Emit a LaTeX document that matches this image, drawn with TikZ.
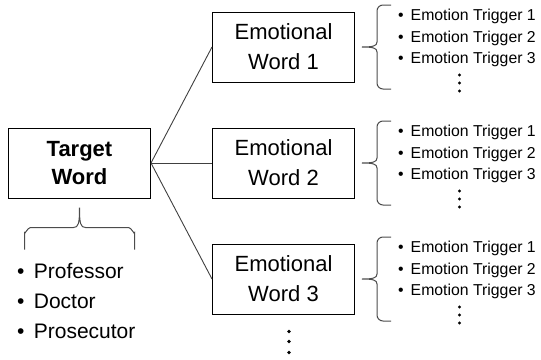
\documentclass[tikz,border=0pt]{standalone}
\usepackage{fontspec}
\setmainfont{Liberation Sans}
\usetikzlibrary{calc}
\begin{document}
\begin{tikzpicture}[x=1pt,y=-1pt,
  wordbox/.style={draw=black, line width=1pt, minimum width=142pt, minimum height=70pt,
    inner sep=0pt, align=center, font=\fontsize{22}{30}\selectfont},
  link/.style={draw=black!75, line width=0.9pt},
  bracestyle/.style={draw=black!70, line width=1pt},
  trig/.style={anchor=west, inner sep=0pt, align=left, font=\fontsize{15.8}{21.5}\selectfont},
  items/.style={anchor=west, inner sep=0pt, align=left, font=\fontsize{21}{29.5}\selectfont},
  dotmark/.style={fill=black}]
\useasboundingbox (0,0) rectangle (541,359);

% main boxes
\node[wordbox, font=\fontsize{22}{28}\selectfont\bfseries] (tw) at (79.5,163) {Target\\Word};
\node[wordbox] (e1) at (283.5,47) {Emotional\\Word 1};
\node[wordbox] (e2) at (283.5,163) {Emotional\\Word 2};
\node[wordbox] (e3) at (283.5,279) {Emotional\\Word 3};

% connectors from the target word
\draw[link] (tw.east) -- (e1.west);
\draw[link] (tw.east) -- (e2.west);
\draw[link] (tw.east) -- (e3.west);

% trigger lists with their braces
\foreach \e/\t in {e1/t1, e2/t2, e3/t3}{
  \node[trig] (\t) at ($(\e.east)+(43,-9)$)
    {• \,Emotion Trigger 1\\• \,Emotion Trigger 2\\• \,Emotion Trigger 3};
  \draw[bracestyle]
    ($(\e.east)+(36,-42)$) -- ($(\e.east)+(28,-42)$)
    to[out=180,in=90] ($(\e.east)+(22,-36)$)
    -- ($(\e.east)+(22,-5)$)
    .. controls ($(\e.east)+(22,-1)$) and ($(\e.east)+(18,0)$) .. ($(\e.east)+(7,0)$)
    .. controls ($(\e.east)+(18,0)$) and ($(\e.east)+(22,1)$) .. ($(\e.east)+(22,5)$)
    -- ($(\e.east)+(22,36)$)
    to[out=-90,in=180] ($(\e.east)+(28,42)$) -- ($(\e.east)+(36,42)$);
  \foreach \dy in {28,36,44}
    \fill[dotmark] ($(\e.east)+(104.5,\dy)$) circle (1.6pt);
}

% vertical dots under the last emotional word
\foreach \dy in {17,27,38}
  \fill[dotmark] ($(e3.south)+(5.5,\dy)$) circle (1.8pt);

% brace and list under the target word
\draw[bracestyle]
  ($(tw.south)+(-55,51)$) -- ($(tw.south)+(-55,34)$)
  to[out=-90,in=180] ($(tw.south)+(-49,29)$)
  -- ($(tw.south)+(-6,29)$)
  .. controls ($(tw.south)+(-1,29)$) and ($(tw.south)+(0,25)$) .. ($(tw.south)+(0,9)$)
  .. controls ($(tw.south)+(0,25)$) and ($(tw.south)+(1,29)$) .. ($(tw.south)+(6,29)$)
  -- ($(tw.south)+(49,29)$)
  to[out=0,in=-90] ($(tw.south)+(55,34)$)
  -- ($(tw.south)+(55,51)$);
\node[items] (lst) at (17,301) {•\, Professor\\•\, Doctor\\•\, Prosecutor};
\end{tikzpicture}
\end{document}
